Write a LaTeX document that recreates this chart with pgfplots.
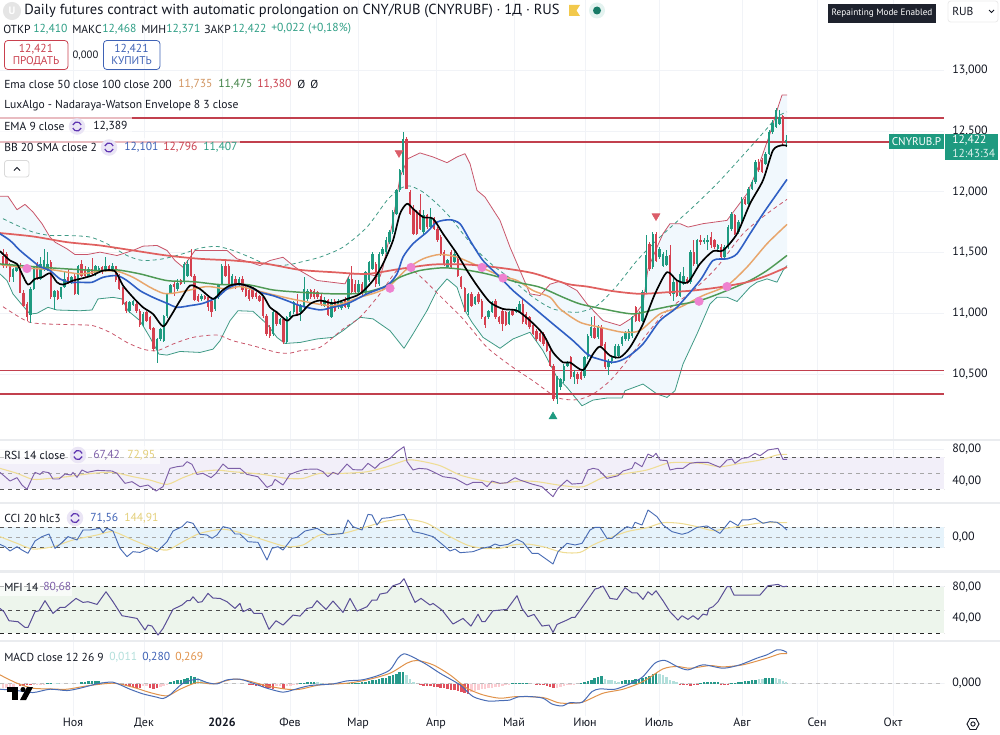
\documentclass[border=0pt]{standalone}
\usepackage{fontspec}
\setmainfont{PT Sans}
\usepackage{pgfplots}
\usepackage{pgfplotstable}
\pgfplotsset{compat=1.18}
\usepgfplotslibrary{fillbetween}
\definecolor{ink}{HTML}{131722}
\definecolor{cup}{HTML}{1E9A80}
\definecolor{cdn}{HTML}{D5404F}
\definecolor{hline}{HTML}{C2404E}
\definecolor{bbfill}{HTML}{F1F8FD}
\definecolor{bbup}{HTML}{C9566A}
\definecolor{bblo}{HTML}{3F9A85}
\definecolor{bbmid}{HTML}{2F5FC4}
\definecolor{ema50}{HTML}{E8A66C}
\definecolor{ema100}{HTML}{4F9A55}
\definecolor{ema200}{HTML}{E0605F}
\definecolor{gridc}{HTML}{F1F3F7}
\definecolor{sepc}{HTML}{EAECEF}
\definecolor{rsil}{HTML}{7D5FA8}
\definecolor{yel}{HTML}{EFDD95}
\definecolor{ccil}{HTML}{4A6DB5}
\definecolor{mfil}{HTML}{5A4F96}
\definecolor{macdo}{HTML}{E0924A}
\definecolor{hteal}{HTML}{26998A}
\definecolor{hpteal}{HTML}{B2DFDB}
\definecolor{hred}{HTML}{E0505E}
\definecolor{hpred}{HTML}{FBCDD2}
\definecolor{numgreen}{HTML}{2E9E85}
\definecolor{numred}{HTML}{C9404E}
\definecolor{numblue}{HTML}{3F62B5}
\definecolor{violet}{HTML}{5E35B1}
\definecolor{pinkdot}{HTML}{EE82D0}
\definecolor{ccifill}{HTML}{E6F3FB}
\definecolor{mfifill}{HTML}{EDF5EC}
\definecolor{yeltext}{HTML}{E3CF7A}
\definecolor{flag}{HTML}{F2C94C}
\definecolor{darkbox}{HTML}{1E222D}

% candles: bar number, open, high, low, close
\pgfplotstableread{
i o h l c
0 11.475 11.53 11.375 11.385
1 11.484 11.50 11.37 11.385
2 11.40 11.41 11.255 11.30
3 11.30 11.37 11.255 11.365
4 11.35 11.41 11.34 11.39
5 11.39 11.41 11.165 11.17
6 11.17 11.19 11.05 11.06
7 11.08 11.09 10.94 10.97
8 10.99 11.215 10.92 11.20
9 11.20 11.39 11.19 11.38
10 11.405 11.42 11.27 11.28
11 11.28 11.46 11.27 11.405
12 11.365 11.53 11.35 11.435
13 11.365 11.50 11.35 11.405
14 11.42 11.435 11.12 11.13
15 11.13 11.19 11.03 11.18
16 11.18 11.19 11.11 11.12
17 11.13 11.22 11.12 11.215
18 11.215 11.35 11.21 11.28
19 11.30 11.365 11.24 11.255
20 11.255 11.31 11.24 11.30
21 11.31 11.325 11.15 11.16
22 11.16 11.40 11.15 11.39
23 11.405 11.435 11.30 11.31
24 11.365 11.39 11.295 11.31
25 11.31 11.38 11.295 11.365
26 11.365 11.456 11.31 11.325
27 11.325 11.40 11.31 11.39
28 11.34 11.39 11.33 11.375
29 11.38 11.39 11.32 11.34
30 11.35 11.465 11.34 11.39
31 11.385 11.40 11.345 11.357
32 11.35 11.41 11.34 11.39
33 11.385 11.39 11.26 11.27
34 11.31 11.325 11.19 11.20
35 11.21 11.22 11.065 11.08
36 11.09 11.10 11.005 11.02
37 11.02 11.10 11.005 11.09
38 11.07 11.11 11.06 11.10
39 11.08 11.10 11.0 11.02
40 11.02 11.035 10.885 10.90
41 10.905 11.01 10.89 10.995
42 11.01 11.02 10.925 10.94
43 10.97 10.98 10.86 10.87
44 10.875 10.89 10.69 10.705
45 10.705 10.80 10.595 10.79
46 10.79 10.88 10.775 10.87
47 10.775 10.99 10.76 10.98
48 10.98 11.17 10.965 11.16
49 11.17 11.24 11.16 11.23
50 11.24 11.255 11.145 11.215
51 11.20 11.28 11.185 11.25
52 11.27 11.285 11.23 11.24
53 11.255 11.42 11.24 11.405
54 11.31 11.435 11.30 11.405
55 11.45 11.53 11.295 11.31
56 11.31 11.32 11.10 11.11
57 11.145 11.16 11.09 11.10
58 11.12 11.16 11.10 11.145
59 11.14 11.15 11.11 11.12
60 11.13 11.145 11.02 11.05
61 11.10 11.12 10.97 11.01
62 11.035 11.145 11.02 11.13
63 11.13 11.24 11.12 11.23
64 11.24 11.405 11.23 11.39
65 11.39 11.45 11.30 11.31
66 11.39 11.405 11.23 11.24
67 11.24 11.325 11.23 11.31
68 11.28 11.31 11.20 11.23
69 11.23 11.30 11.215 11.28
70 11.28 11.31 11.175 11.19
71 11.215 11.23 11.13 11.145
72 11.19 11.20 11.10 11.12
73 11.19 11.20 11.115 11.13
74 11.17 11.185 11.115 11.13
75 11.14 11.15 11.09 11.10
76 11.13 11.145 10.965 10.98
77 10.98 10.995 10.815 10.83
78 10.885 10.90 10.80 10.815
79 10.83 11.02 10.81 11.01
80 11.01 11.02 10.895 10.91
81 10.91 10.965 10.90 10.95
82 10.95 10.965 10.745 10.76
83 10.76 10.98 10.745 10.97
84 10.97 11.02 10.95 11.01
85 11.01 11.105 10.995 11.09
86 11.07 11.16 10.98 10.995
87 11.01 11.08 10.94 11.06
88 11.05 11.30 11.02 11.20
89 11.12 11.20 11.105 11.18
90 11.19 11.20 11.12 11.13
91 11.187 11.20 11.12 11.13
92 11.173 11.187 11.12 11.13
93 11.146 11.16 11.064 11.08
94 11.06 11.13 11.05 11.11
95 11.11 11.118 10.98 10.99
96 10.967 11.118 10.96 11.09
97 11.10 11.118 11.01 11.02
98 11.05 11.118 11.035 11.105
99 11.04 11.10 11.03 11.09
100 11.12 11.13 11.04 11.05
101 11.05 11.297 11.035 11.283
102 11.283 11.39 11.16 11.173
103 11.242 11.27 11.16 11.173
104 11.173 11.27 11.16 11.242
105 11.242 11.256 11.146 11.16
106 11.173 11.35 11.16 11.338
107 11.27 11.434 11.256 11.42
108 11.365 11.503 11.352 11.489
109 11.407 11.42 11.215 11.242
110 11.242 11.503 11.228 11.489
111 11.489 11.544 11.475 11.53
112 11.503 11.626 11.49 11.60
113 11.585 11.681 11.57 11.668
114 11.668 11.846 11.654 11.832
115 11.819 12.025 11.805 12.011
116 12.011 12.19 11.997 12.176
117 12.162 12.49 12.135 12.437
118 12.437 12.45 12.025 12.025
119 11.997 12.011 11.805 11.819
120 11.86 11.888 11.64 11.654
121 11.819 11.846 11.64 11.654
122 11.846 11.978 11.681 11.695
123 11.668 11.846 11.654 11.805
124 11.805 11.819 11.695 11.709
125 11.709 11.868 11.695 11.778
126 11.778 11.79 11.681 11.695
127 11.695 11.709 11.585 11.599
128 11.626 11.64 11.475 11.489
129 11.503 11.517 11.393 11.407
130 11.38 11.45 11.37 11.44
131 11.503 11.517 11.365 11.379
132 11.42 11.50 11.41 11.489
133 11.448 11.46 11.296 11.31
134 11.297 11.31 11.20 11.215
135 11.206 11.22 11.01 11.02
136 11.01 11.17 10.985 11.16
137 11.16 11.175 11.05 11.064
138 11.08 11.14 11.07 11.13
139 11.16 11.175 11.08 11.09
140 11.105 11.12 10.955 10.967
141 10.967 10.98 10.88 10.90
142 10.967 11.03 10.955 11.02
143 11.01 11.10 11.0 11.09
144 11.105 11.12 10.955 10.967
145 10.967 10.98 10.915 10.926
146 11.02 11.035 10.857 10.912
147 11.01 11.02 10.895 10.907
148 10.912 11.02 10.90 11.01
149 11.02 11.03 10.98 10.99
150 11.01 11.05 11.0 11.036
151 11.01 11.10 11.0 11.08
152 11.08 11.12 10.91 10.926
153 10.995 11.01 10.90 10.912
154 10.967 10.98 10.87 10.885
155 10.90 10.915 10.82 10.83
156 10.857 10.87 10.775 10.788
157 10.84 10.855 10.76 10.775
158 10.83 10.845 10.735 10.747
159 10.747 10.76 10.68 10.692
160 10.692 10.705 10.555 10.569
161 10.569 10.583 10.28 10.294
162 10.294 10.487 10.253 10.473
163 10.39 10.47 10.37 10.46
164 10.445 10.583 10.43 10.569
165 10.569 10.61 10.555 10.596
166 10.638 10.652 10.46 10.473
167 10.473 10.53 10.42 10.514
168 10.50 10.514 10.42 10.46
169 10.514 10.528 10.45 10.46
170 10.487 10.652 10.47 10.638
171 10.638 10.83 10.624 10.816
172 10.816 10.968 10.80 10.885
173 10.88 10.98 10.79 10.80
174 10.803 10.90 10.79 10.885
175 10.885 10.90 10.72 10.734
176 10.748 10.76 10.54 10.555
177 10.555 10.62 10.495 10.61
178 10.61 10.65 10.58 10.638
179 10.638 10.75 10.62 10.734
180 10.652 10.75 10.64 10.734
181 10.748 10.815 10.735 10.803
182 10.789 10.857 10.775 10.844
183 10.789 10.87 10.775 10.858
184 10.816 10.98 10.80 10.968
185 11.05 11.06 10.925 10.94
186 10.995 11.015 10.925 10.94
187 10.94 11.19 10.925 11.173
188 11.173 11.64 11.16 11.476
189 11.572 11.585 11.35 11.366
190 11.38 11.668 11.365 11.654
191 11.654 11.668 11.42 11.434
192 11.462 11.545 11.45 11.53
193 11.393 11.503 11.38 11.49
194 11.40 11.52 11.39 11.47
195 11.476 11.558 11.145 11.16
196 11.16 11.297 11.105 11.256
197 11.256 11.27 11.13 11.146
198 11.146 11.34 11.13 11.325
199 11.242 11.38 11.23 11.31
200 11.283 11.297 11.242 11.256
201 11.256 11.517 11.242 11.503
202 11.503 11.6 11.393 11.407
203 11.407 11.61 11.393 11.6
204 11.6 11.64 11.565 11.585
205 11.59 11.62 11.57 11.60
206 11.585 11.645 11.52 11.6
207 11.627 11.668 11.54 11.558
208 11.6 11.613 11.53 11.544
209 11.53 11.57 11.515 11.558
210 11.544 11.57 11.45 11.462
211 11.462 11.558 11.45 11.544
212 11.544 11.723 11.53 11.709
213 11.695 11.833 11.68 11.82
214 11.805 11.82 11.64 11.654
215 11.668 11.764 11.654 11.75
216 11.75 11.956 11.737 11.943
217 11.943 11.956 11.888 11.9
218 11.9 12.04 11.888 12.025
219 12.025 12.094 12.01 12.08
220 12.08 12.258 12.066 12.245
221 12.245 12.27 12.162 12.176
222 12.258 12.28 12.15 12.162
223 12.231 12.327 12.218 12.313
224 12.313 12.505 12.3 12.492
225 12.492 12.588 12.478 12.566
226 12.533 12.69 12.52 12.67
227 12.56 12.67 12.545 12.616
228 12.62 12.63 12.38 12.40
229 12.41 12.468 12.371 12.422
}\candles

\pgfplotsset{
  pane/.style={
    scale only axis, width=708pt, xmin=0, xmax=944,
    anchor=south west,
    axis line style={draw=none},
    tickwidth=0pt,
    xtick={73,144,222,290,358,436,514,585,659,742,817,893},
    xticklabels={},
    xmajorgrids, ymajorgrids,
    grid style={draw=gridc, line width=.6pt},
    yticklabel pos=right,
    yticklabel style={anchor=west, inner sep=0pt, xshift=6pt, text=ink, font=\fontsize{9}{11}\selectfont},
  },
  ln/.style={line join=round, forget plot, mark=none},
  sm/.style={line join=round, forget plot, mark=none, smooth, tension=.45},
  stem/.style 2 args={draw=none, mark=none, forget plot,
    error bars/y dir=both, error bars/y explicit, error bars/error mark=none,
    error bars/error bar style={line width=#1, color=#2}},
}
\newcommand{\candleplot}{%
\addplot[stem={.6pt}{cup}, restrict expr to domain={\thisrow{c}-\thisrow{o}}{0:10}]
  table[x expr=3+3.42*\thisrow{i}, y=o, y error plus expr=\thisrow{h}-\thisrow{o}, y error minus expr=\thisrow{o}-\thisrow{l}] {\candles};
\addplot[stem={1.8pt}{cup}, restrict expr to domain={\thisrow{c}-\thisrow{o}}{0:10}]
  table[x expr=3+3.42*\thisrow{i}, y=o, y error plus expr=\thisrow{c}-\thisrow{o}, y error minus expr=0] {\candles};
\addplot[stem={.6pt}{cdn}, restrict expr to domain={\thisrow{c}-\thisrow{o}}{-10:-0.00001}]
  table[x expr=3+3.42*\thisrow{i}, y=o, y error plus expr=\thisrow{h}-\thisrow{o}, y error minus expr=\thisrow{o}-\thisrow{l}] {\candles};
\addplot[stem={1.8pt}{cdn}, restrict expr to domain={\thisrow{c}-\thisrow{o}}{-10:-0.00001}]
  table[x expr=3+3.42*\thisrow{i}, y=o, y error plus expr=0, y error minus expr=\thisrow{o}-\thisrow{c}] {\candles};
}
% one line of text, left aligned at pixel x,y of the overlay axis
\newcommand{\lab}[4]{\node[anchor=west, inner sep=0pt, text=#3] at (axis cs:#1,#2) {#4};}
\newcommand{\refresh}[2]{%
  \fill[violet!13] (axis cs:#1,#2) circle (6.2pt);
  \draw[violet, line width=.9pt] (axis cs:#1,#2) ++(20:3.4pt) arc (20:160:3.4pt);
  \draw[violet, line width=.9pt] (axis cs:#1,#2) ++(200:3.4pt) arc (200:340:3.4pt);
}

\begin{document}
\begin{tikzpicture}[every node/.append style={font=\fontsize{8.7}{11}\selectfont}]
\path (0,0) rectangle (750pt,551.25pt);

% price pane
\begin{axis}[pane, at={(0pt,222pt)}, height=329.25pt, ymin=9.966, ymax=13.577,
  ytick={10.5,11,11.5,12,12.5,13},
  yticklabels={{10,500},{11,000},{11,500},{12,000},{12,500},{13,000}}]
\addplot[name path=bbu, bbup, line width=.6pt, ln] coordinates {(0,11.962)(8,11.962)(17,11.852)(25,11.896)(33,11.833)(42,11.737)(50,11.627)(55,11.585)(67,11.53)(75,11.483)(87,11.483)(100,11.503)(117,11.475)(133,11.517)(143,11.552)(157,11.558)(167,11.517)(175,11.434)(183,11.379)(195,11.517)(220,11.517)(227,11.517)(237,11.448)(250,11.42)(260,11.393)(270,11.434)(283,11.461)(293,11.393)(300,11.351)(317,11.27)(345,11.242)(350,11.324)(367,11.324)(380,11.30)(383,11.379)(393,11.764)(400,12.121)(408,12.272)(420,12.319)(433,12.286)(447,12.239)(457,12.286)(465,12.313)(470,12.231)(477,12.011)(485,11.956)(500,11.764)(510,11.544)(520,11.352)(530,11.16)(540,11.146)(550,11.239)(560,11.264)(577,11.187)(587,11.077)(603,10.94)(620,10.899)(633,10.967)(643,11.077)(648,11.366)(657,11.544)(663,11.654)(670,11.737)(680,11.737)(688,11.709)(703,11.737)(727,11.764)(737,11.874)(747,11.984)(757,12.176)(770,12.478)(777,12.67)(782,12.795)(787,12.796)};
\addplot[name path=bbl, bblo, line width=.6pt, ln] coordinates {(0,11.324)(7,11.269)(13,11.159)(20,11.09)(30,10.994)(37,11.0)(48,11.049)(57,11.027)(80,11.021)(92,11.027)(98,11.118)(113,11.131)(122,11.118)(128,11.021)(140,10.939)(150,10.801)(159,10.664)(167,10.656)(180,10.686)(200,10.678)(213,10.705)(220,10.774)(230,10.939)(238,11.021)(253,11.016)(267,10.911)(277,10.801)(285,10.752)(300,10.76)(317,10.789)(333,10.802)(343,10.857)(360,10.967)(373,10.954)(390,10.857)(404,10.712)(413,10.83)(427,11.022)(437,11.187)(447,11.283)(457,11.214)(465,11.022)(472,10.926)(483,10.802)(500,10.712)(513,10.789)(530,10.844)(543,10.692)(557,10.473)(567,10.39)(582,10.239)(593,10.286)(607,10.303)(622,10.303)(625,10.363)(643,10.418)(657,10.336)(667,10.308)(675,10.363)(683,10.583)(697,10.83)(710,11.077)(717,11.132)(727,11.132)(737,11.097)(750,11.215)(757,11.256)(767,11.283)(777,11.256)(783,11.352)(787,11.393)};
\addplot[bbfill] fill between[of=bbu and bbl];
% Nadaraya-Watson envelope
\addplot[bblo, line width=.6pt, dash pattern=on 3pt off 2.4pt, sm] coordinates {(3,11.778)(17,11.723)(33,11.668)(50,11.64)(67,11.64)(90,11.627)(107,11.572)(127,11.475)(143,11.434)(163,11.448)(183,11.49)(200,11.536)(217,11.55)(233,11.517)(250,11.461)(263,11.415)(280,11.393)(293,11.406)(300,11.42)(320,11.462)(343,11.544)(367,11.709)(387,11.929)(400,12.025)(410,12.047)(423,11.997)(437,11.901)(450,11.791)(463,11.654)(477,11.517)(493,11.393)(513,11.27)(533,11.132)(553,11.036)(577,11.008)(597,11.063)(617,11.228)(637,11.434)(660,11.627)(693,11.874)(717,12.066)(740,12.272)(767,12.52)(777,12.616)(787,12.657)};
\addplot[bbup, line width=.6pt, dash pattern=on 3pt off 2.4pt, sm] coordinates {(3,11.054)(17,10.98)(30,10.925)(47,10.912)(73,10.906)(93,10.898)(110,10.843)(127,10.76)(143,10.705)(157,10.692)(173,10.747)(193,10.802)(217,10.821)(233,10.774)(253,10.733)(277,10.678)(290,10.672)(300,10.692)(320,10.72)(343,10.871)(360,10.967)(380,11.16)(397,11.352)(410,11.365)(423,11.283)(443,11.118)(463,10.954)(487,10.72)(513,10.555)(533,10.445)(557,10.308)(577,10.289)(593,10.336)(610,10.445)(627,10.61)(647,10.83)(667,11.022)(693,11.187)(717,11.38)(743,11.654)(767,11.819)(787,11.937)};
% levels
\addplot[hline, line width=1.3pt, ln] coordinates {(0,12.604)(944,12.604)};
\addplot[hline, line width=1.2pt, ln] coordinates {(0,12.41)(944,12.41)};
\addplot[hline, line width=1.2pt, ln] coordinates {(0,10.53)(944,10.53)};
\addplot[hline, line width=1.2pt, ln] coordinates {(0,10.336)(944,10.336)};
\candleplot
% EMA 50, 100, 200
\addplot[ema50, line width=1.1pt, sm] coordinates {(0,11.401)(27,11.373)(53,11.357)(80,11.324)(100,11.346)(117,11.346)(133,11.296)(150,11.214)(163,11.165)(173,11.165)(187,11.186)(207,11.22)(227,11.2)(240,11.22)(257,11.186)(277,11.145)(300,11.104)(333,11.063)(360,11.132)(377,11.173)(390,11.228)(407,11.365)(423,11.448)(440,11.484)(457,11.462)(477,11.393)(500,11.31)(517,11.27)(533,11.187)(550,11.132)(560,11.036)(580,10.926)(600,10.885)(623,10.844)(640,10.858)(660,10.995)(680,11.05)(703,11.146)(727,11.228)(747,11.38)(767,11.572)(787,11.731)};
\addplot[ema100, line width=1.1pt, sm] coordinates {(0,11.406)(33,11.384)(67,11.365)(100,11.351)(117,11.357)(140,11.324)(167,11.269)(193,11.26)(220,11.236)(247,11.236)(273,11.192)(300,11.173)(333,11.16)(360,11.165)(383,11.214)(400,11.297)(420,11.352)(443,11.374)(463,11.36)(487,11.324)(517,11.256)(540,11.214)(563,11.132)(580,11.077)(603,11.036)(633,10.995)(657,11.036)(673,11.063)(700,11.105)(727,11.187)(750,11.27)(767,11.352)(787,11.476)};
\addplot[ema200, line width=1.3pt, sm] coordinates {(0,11.66)(33,11.632)(67,11.585)(100,11.558)(133,11.517)(167,11.475)(200,11.448)(233,11.434)(267,11.406)(300,11.357)(333,11.338)(367,11.324)(400,11.365)(433,11.401)(467,11.401)(500,11.374)(533,11.33)(567,11.242)(587,11.22)(613,11.182)(640,11.16)(667,11.173)(693,11.187)(720,11.215)(747,11.256)(767,11.31)(787,11.38)};
% BB basis
\addplot[bbmid, line width=1.2pt, sm] coordinates {(0,11.654)(10,11.599)(20,11.517)(30,11.448)(40,11.384)(50,11.351)(60,11.283)(70,11.255)(80,11.255)(92,11.255)(103,11.296)(117,11.31)(127,11.269)(140,11.186)(153,11.131)(167,11.082)(177,11.049)(190,11.063)(203,11.082)(217,11.131)(227,11.2)(237,11.236)(247,11.228)(260,11.173)(273,11.145)(287,11.104)(300,11.063)(320,11.028)(333,11.05)(347,11.077)(367,11.16)(387,11.228)(397,11.324)(403,11.462)(413,11.572)(427,11.668)(437,11.75)(450,11.769)(460,11.736)(470,11.599)(483,11.434)(500,11.297)(513,11.187)(533,11.05)(553,10.912)(573,10.775)(587,10.665)(593,10.638)(613,10.597)(627,10.638)(643,10.748)(660,10.94)(677,11.05)(700,11.27)(713,11.434)(727,11.448)(737,11.49)(750,11.654)(763,11.819)(777,11.984)(787,12.101)};
% EMA 9
\addplot[black, line width=1.25pt, sm] coordinates {(0,11.511)(10,11.434)(17,11.406)(22,11.324)(28,11.236)(35,11.283)(42,11.296)(50,11.329)(57,11.255)(63,11.236)(73,11.269)(80,11.283)(92,11.31)(103,11.351)(115,11.346)(123,11.228)(133,11.131)(143,11.049)(153,10.994)(163,10.892)(170,10.967)(180,11.104)(190,11.228)(200,11.2)(213,11.118)(222,11.186)(230,11.228)(240,11.241)(253,11.208)(263,11.145)(270,11.049)(277,11.008)(287,10.939)(293,10.98)(300,10.994)(310,11.077)(320,11.105)(333,11.083)(347,11.118)(360,11.16)(373,11.27)(383,11.407)(393,11.599)(400,11.819)(407,11.901)(413,11.86)(423,11.791)(433,11.778)(443,11.654)(457,11.489)(467,11.352)(477,11.228)(490,11.091)(503,11.036)(517,11.022)(530,10.94)(543,10.83)(553,10.679)(563,10.596)(570,10.596)(583,10.533)(593,10.665)(600,10.726)(610,10.652)(620,10.638)(630,10.72)(643,10.913)(655,11.16)(667,11.338)(677,11.27)(688,11.256)(700,11.407)(713,11.511)(723,11.517)(737,11.654)(750,11.901)(763,12.094)(773,12.341)(782,12.382)(787,12.377)};
% crossings and signals
\addplot[only marks, mark=*, mark size=3.2pt, mark options={draw=pinkdot, fill=pinkdot}, forget plot] coordinates {(27,11.368)(390,11.206)(411,11.377)(482,11.377)(503,11.29)(699,11.099)(727,11.22)};
\addplot[only marks, mark=triangle*, mark size=3.4pt, mark options={draw=cdn!85, fill=cdn!85, rotate=180}, forget plot] coordinates {(399,12.32)(656,11.80)};
\addplot[only marks, mark=triangle*, mark size=3.4pt, mark options={draw=cup, fill=cup}, forget plot] coordinates {(553,10.15)};
\end{axis}

% RSI
\begin{axis}[pane, at={(0pt,174.2pt)}, height=46.3pt, ymin=13.3, ymax=90.4, ytick={40,80}, yticklabels={{40,00},{80,00}}]
\addplot[fill=violet!8, draw=none, forget plot] coordinates {(0,70)(944,70)(944,30)(0,30)} -- cycle;
\addplot[black!65, line width=.55pt, dashed, ln] coordinates {(0,70)(944,70)};
\addplot[black!35, line width=.55pt, dashed, ln] coordinates {(0,50)(944,50)};
\addplot[black!65, line width=.55pt, dashed, ln] coordinates {(0,30)(944,30)};
\addplot[yel, line width=.8pt, sm] coordinates {(0,56.2)(17,50)(33,42.5)(50,43.7)(67,45.8)(93,50)(113,51.2)(133,45.8)(150,41.6)(167,36.2)(183,44.6)(200,52)(217,54)(233,52)(253,50)(267,47.9)(287,43.7)(303,43.7)(320,50)(343,50)(367,52)(387,58.3)(407,66.6)(420,65.4)(440,59.6)(460,47.9)(480,41.6)(500,37.5)(520,40.4)(537,39.6)(563,34.6)(583,33.3)(603,44.6)(627,50)(647,54.2)(667,62.5)(680,63.7)(700,62.5)(720,58.3)(740,62.5)(760,66.6)(777,72.9)(787,73.7)};
\addplot[rsil, line width=.7pt, ln] coordinates {(0,51.2)(7,43.7)(10,40.4)(17,44.6)(22,35.4)(27,30)(32,43.7)(35,51.2)(40,48.7)(43,52.1)(49,50.8)(53,42.9)(59,42.9)(65,49.1)(71,47.9)(73,51.2)(77,45)(82,54.2)(87,51.2)(97,53.7)(112,52.9)(117,50)(125,37.5)(132,39.6)(140,33.3)(148,35.4)(156,27.9)(163,33.3)(170,56.2)(177,58.3)(183,59.2)(187,64.6)(192,61.2)(197,48.7)(203,50)(211,44.6)(216,50)(223,61.6)(228,56.2)(235,56.2)(240,56.2)(247,48.7)(258,45.8)(267,32.5)(272,35.4)(275,42.5)(283,35.4)(290,48.7)(297,52.1)(305,55)(317,55.4)(323,52.1)(328,45.8)(333,51.2)(338,48.7)(347,61.6)(353,54.6)(362,54.2)(368,62.5)(375,56.2)(380,62.5)(390,68.7)(397,77.1)(404,83.3)(407,64.6)(413,54.2)(419,56.2)(427,55.4)(433,52.1)(443,45.8)(455,43.7)(467,35.4)(473,38.7)(482,38.7)(487,33.3)(492,40.4)(500,37.5)(507,38.3)(515,44.6)(520,41.6)(532,36.6)(542,33.3)(553,20.8)(558,31.2)(567,41.6)(572,36.6)(582,37.5)(588,54.2)(593,56.2)(598,55)(607,43.7)(618,47)(623,52.9)(632,56.2)(635,63.7)(642,58.3)(648,74.1)(653,70.8)(656,75)(660,66.6)(667,65.8)(670,54.2)(677,56.2)(683,56.2)(690,62.5)(697,63.7)(708,63.7)(720,57.5)(727,66.6)(732,67.9)(735,62.5)(742,68.7)(748,69.6)(755,75)(760,72)(768,79.2)(778,81.2)(783,67.5)(787,67.4)};
\end{axis}

% CCI
\begin{axis}[pane, at={(0pt,123pt)}, height=50.25pt, ymin=-331, ymax=328, ytick={0}, yticklabel={{0,00}}]
\addplot[fill=ccifill, draw=none, forget plot] coordinates {(0,100)(944,100)(944,-100)(0,-100)} -- cycle;
\addplot[black!65, line width=.55pt, dashed, ln] coordinates {(0,100)(944,100)};
\addplot[black!35, line width=.55pt, dashed, ln] coordinates {(0,0)(944,0)};
\addplot[black!65, line width=.55pt, dashed, ln] coordinates {(0,-100)(944,-100)};
\addplot[yel, line width=.8pt, sm] coordinates {(0,7)(17,-59)(33,-115)(53,-92)(73,-26)(97,23)(113,56)(133,-26)(150,-92)(167,-125)(183,-43)(200,39)(223,79)(243,39)(267,-36)(287,-92)(303,-75)(320,23)(343,39)(367,105)(387,161)(408,177)(427,138)(447,23)(467,-75)(483,-108)(500,-108)(513,-75)(527,-66)(543,-92)(563,-148)(580,-148)(593,-75)(607,-16)(627,56)(647,95)(663,144)(680,138)(697,105)(713,66)(727,89)(743,115)(763,144)(787,144.9)};
\addplot[ccil, line width=.7pt, ln] coordinates {(0,-69)(5,-92)(10,-134)(17,-92)(22,-125)(28,-157)(35,-36)(42,7)(49,33)(55,-108)(62,-52)(68,7)(77,-26)(83,72)(90,72)(100,89)(103,46)(107,89)(113,62)(120,-108)(127,-190)(133,-141)(140,-148)(150,-102)(157,-141)(167,-43)(173,62)(182,105)(187,154)(193,138)(200,30)(207,23)(212,-10)(217,23)(223,105)(230,89)(235,33)(240,33)(248,-43)(258,-49)(267,-223)(272,-108)(278,-92)(283,-125)(292,-10)(297,0)(305,62)(317,89)(328,23)(343,39)(348,171)(353,105)(362,72)(368,226)(372,220)(377,121)(382,187)(390,194)(397,213)(404,226)(413,56)(422,39)(433,7)(443,-75)(450,-134)(455,-115)(460,-151)(473,-141)(482,-108)(490,-92)(495,-66)(500,-82)(508,-69)(517,-20)(523,-49)(532,-157)(538,-157)(553,-262)(558,-141)(567,-59)(575,-75)(582,-59)(590,72)(595,98)(600,98)(607,-10)(612,-10)(620,56)(627,105)(632,89)(635,148)(642,121)(648,269)(657,203)(663,121)(672,56)(682,30)(688,46)(697,98)(707,112)(720,39)(730,161)(738,115)(742,171)(748,171)(755,187)(763,138)(770,154)(777,148)(782,115)(787,71.6)};
\end{axis}

% MFI
\begin{axis}[pane, at={(0pt,70.7pt)}, height=51.5pt, ymin=10.1, ymax=99, ytick={40,80}, yticklabels={{40,00},{80,00}}]
\addplot[fill=mfifill, draw=none, forget plot] coordinates {(0,80)(944,80)(944,20)(0,20)} -- cycle;
\addplot[black!85, line width=.6pt, dashed, ln] coordinates {(0,80)(944,80)};
\addplot[black!70, line width=.55pt, dashed, ln] coordinates {(0,50)(944,50)};
\addplot[black!85, line width=.6pt, dashed, ln] coordinates {(0,20)(944,20)};
\addplot[mfil, line width=.75pt, ln] coordinates {(0,51.9)(4,47.6)(9,36)(18,34.7)(25,27.3)(28,27.3)(35,47.6)(39,48.9)(45,61.9)(53,45.5)(60,53.2)(65,53.2)(76,64.9)(83,59.7)(88,60.6)(97,57.1)(106,73.5)(113,60.6)(122,42.5)(137,39)(145,23.9)(148,30.4)(152,29.1)(158,17.4)(163,26)(173,50.7)(182,56.3)(187,61.9)(190,61.9)(193,67)(198,59.7)(202,60.6)(208,71.4)(213,65.3)(220,64.9)(227,60.6)(235,51.9)(240,58.4)(243,47.6)(250,51.9)(254,45.5)(262,45.5)(269,24.8)(276,36)(283,30.4)(293,43.3)(300,42)(307,51.9)(312,53.2)(317,61.9)(326,50.7)(333,61.5)(343,46.8)(350,64.9)(357,48.5)(367,54.1)(372,62.7)(377,62.7)(380,70.5)(387,72.2)(393,81.3)(400,84.3)(404,90.4)(415,59.7)(421,64.9)(430,56.3)(433,58.4)(442,49.8)(453,31.7)(463,39)(471,29.1)(478,44.4)(482,34.7)(485,34.7)(493,48.9)(500,49.8)(507,50.7)(517,68.4)(522,51.9)(528,41.2)(534,44.2)(542,29.1)(549,30.4)(553,20.9)(557,31.2)(567,36.9)(572,40.3)(575,40.3)(585,58.4)(595,77)(598,77.9)(603,80.9)(610,64.9)(617,63.6)(625,78.7)(632,72.2)(637,72.2)(643,63.6)(648,73.5)(652,69.2)(656,74.8)(663,61.9)(670,47.6)(678,36.8)(682,42.5)(688,37.7)(693,42.5)(698,37.7)(703,44.6)(707,43.3)(709,51.9)(713,54.1)(718,60.6)(727,80)(730,80)(734,69.2)(760,69.2)(768,81.3)(778,83)(783,80)(787,80.7)};
\end{axis}

% MACD
\begin{axis}[pane, at={(0pt,14.25pt)}, height=55.9pt, ymin=-0.292, ymax=0.379, ytick={0}, yticklabel={{0,000}},
  xticklabels={Ноя,Дек,\textbf{2026},Фев,Мар,Апр,Май,Июн,Июль,Авг,Сен,Окт},
  xticklabel style={text=ink, font=\fontsize{9}{11}\selectfont, inner sep=0pt, yshift=-1.5pt}]
\addplot[black!25, line width=.55pt, dashed, ln] coordinates {(0,0)(944,0)};
\addplot[ycomb, hpred, line width=1.9pt, ln] table[x expr=3+3.42*\thisrow{i}, y=v] {
i v
0 -.04
1 -.036
2 -.03
3 -.03
9 -.012
10 -.012
11 -.009
12 -.006
41 -.02
42 -.02
46 -.03
47 -.02
48 -.01
80 -.02
81 -.02
83 -.02
84 -.018
85 -.015
86 -.01
137 -.08
138 -.07
139 -.06
140 -.05
141 -.045
142 -.04
143 -.04
144 -.035
145 -.03
146 -.02
147 -.012
148 -.01
162 -.036
163 -.03
164 -.024
165 -.012
166 -.009
167 -.006
};
\addplot[ycomb, hred, line width=1.9pt, ln] table[x expr=3+3.42*\thisrow{i}, y=v] {
i v
5 -.018
6 -.018
7 -.015
8 -.012
35 -.012
36 -.018
37 -.024
38 -.03
39 -.036
40 -.04
43 -.036
44 -.045
45 -.04
72 -.012
73 -.015
74 -.018
75 -.024
76 -.03
77 -.036
78 -.04
79 -.045
82 -.05
122 -.015
123 -.018
124 -.022
125 -.026
126 -.03
127 -.033
128 -.036
129 -.042
130 -.048
131 -.055
132 -.06
133 -.07
134 -.08
135 -.085
136 -.09
156 -.006
157 -.01
158 -.012
159 -.018
160 -.03
161 -.042
198 -.006
199 -.012
200 -.015
201 -.018
202 -.015
203 -.01
210 -.006
211 -.01
212 -.008
};
\addplot[ycomb, hpteal, line width=1.9pt, ln] table[x expr=3+3.42*\thisrow{i}, y=v] {
i v
16 .004
29 .01
30 .006
57 .05
58 .036
59 .024
60 .015
61 .006
92 .012
93 .009
118 .075
119 .045
120 .01
176 .045
177 .036
178 .03
179 .024
180 .015
192 .085
193 .075
194 .06
195 .036
196 .024
197 .012
221 .042
222 .042
226 .054
227 .04
228 .024
229 .011
};
\addplot[ycomb, hteal, line width=1.9pt, ln] table[x expr=3+3.42*\thisrow{i}, y=v] {
i v
13 .004
14 .005
23 .01
24 .015
25 .02
26 .024
27 .024
28 .02
49 .012
50 .02
51 .03
52 .036
53 .045
54 .054
55 .066
56 .063
87 .006
88 .009
89 .012
90 .015
91 .015
101 .006
102 .006
103 .006
104 .006
105 .012
106 .018
107 .024
108 .03
109 .036
110 .042
111 .048
112 .054
113 .066
114 .078
115 .09
116 .1
117 .108
149 .004
150 .006
151 .006
152 .006
153 .004
169 .006
170 .012
171 .022
172 .032
173 .05
174 .06
175 .066
181 .024
182 .03
183 .03
184 .036
185 .042
186 .045
187 .05
188 .06
189 .07
190 .085
191 .095
204 .006
205 .012
206 .012
207 .015
208 .012
209 .01
213 .004
214 .006
215 .01
216 .015
217 .02
218 .025
219 .03
220 .036
223 .048
224 .054
225 .054
};
\addplot[macdo, line width=.75pt, sm] coordinates {(0,.078)(17,.003)(33,-.042)(50,-.048)(67,-.051)(87,-.021)(113,.003)(133,-.033)(150,-.081)(167,-.111)(180,-.051)(197,.009)(213,-.003)(233,.039)(247,.027)(267,-.021)(287,-.051)(300,-.051)(320,-.012)(347,.003)(367,.033)(390,.093)(407,.184)(417,.208)(433,.169)(450,.078)(467,-.042)(483,-.102)(500,-.132)(517,-.117)(543,-.126)(558,-.172)(570,-.178)(583,-.166)(603,-.087)(623,-.051)(643,.018)(663,.132)(677,.154)(690,.138)(710,.162)(723,.15)(743,.169)(767,.229)(780,.268)(787,.269)};
\addplot[ccil, line width=.75pt, sm] coordinates {(0,-.051)(17,-.063)(33,-.081)(50,-.051)(67,-.063)(80,-.042)(97,-.003)(113,.012)(130,-.051)(143,-.093)(157,-.123)(163,-.135)(170,-.102)(183,.003)(197,.039)(207,.009)(217,-.003)(227,.033)(240,.039)(253,.003)(267,-.042)(283,-.078)(293,-.057)(310,-.018)(333,-.003)(347,.024)(362,.033)(377,.069)(390,.123)(398,.229)(404,.268)(413,.238)(427,.169)(440,.093)(460,-.012)(473,-.117)(488,-.157)(500,-.154)(510,-.148)(518,-.12)(530,-.117)(543,-.132)(552,-.184)(562,-.202)(570,-.172)(582,-.169)(592,-.072)(600,-.048)(615,-.051)(633,.009)(643,.063)(655,.184)(665,.208)(677,.154)(688,.123)(703,.169)(723,.138)(740,.169)(757,.229)(767,.259)(777,.304)(783,.298)(787,.280)};
\end{axis}

% header, legends, price tags
\begin{axis}[at={(0pt,0pt)}, anchor=south west, scale only axis, width=750pt, height=551.25pt,
  xmin=0, xmax=1000, ymin=0, ymax=735, y dir=reverse, hide axis, clip=false]
\draw[sepc, line width=1.6pt] (axis cs:0,440)--(axis cs:1000,440);
\draw[sepc, line width=1.6pt] (axis cs:0,503)--(axis cs:1000,503);
\draw[sepc, line width=1.6pt] (axis cs:0,571.5)--(axis cs:1000,571.5);
\draw[sepc, line width=1.6pt] (axis cs:0,641)--(axis cs:1000,641);
% pale backing of the legend rows
\fill[white, opacity=.65] (axis cs:0,117) rectangle (axis cs:132,136);
\fill[white, opacity=.65] (axis cs:0,138) rectangle (axis cs:240,157);
\fill[white, opacity=.65] (axis cs:0,446) rectangle (axis cs:160,464);
\fill[white, opacity=.65] (axis cs:0,578) rectangle (axis cs:72,596);
% title
\fill[black!10] (axis cs:12,11) circle (6.8pt);
\node[text=white, inner sep=0pt, font=\fontsize{8}{10}\selectfont\bfseries] at (axis cs:12,11) {U};
\node[anchor=west, inner sep=0pt, text=ink, font=\fontsize{10.9}{14}\selectfont] at (axis cs:24,11) {Daily futures contract with automatic prolongation on CNY/RUB (CNYRUBF) · 1Д · RUS};
\fill[flag] (axis cs:569,5) -- (axis cs:580,5) -- (axis cs:576.5,10.5) -- (axis cs:580,16) -- (axis cs:569,16) -- cycle;
\fill[cup!12] (axis cs:597,10.5) circle (6pt);
\fill[cup!80!black] (axis cs:597,10.5) circle (3pt);
% OHLC
\lab{3}{29}{ink}{ОТКР}\lab{33}{29}{numgreen}{12,410}
\lab{72}{29}{ink}{МАКС}\lab{102}{29}{numgreen}{12,468}
\lab{141}{29}{ink}{МИН}\lab{166}{29}{numgreen}{12,371}
\lab{204}{29}{ink}{ЗАКР}\lab{232}{29}{numgreen}{12,422}
\lab{271}{29}{numgreen}{+0,022 (+0,18\%)}
% order buttons
\draw[numred, line width=.6pt, rounded corners=2.5pt] (axis cs:4.5,40.5) rectangle (axis cs:68,69.5);
\node[text=numred, inner sep=0pt] at (axis cs:36,49) {12,421};
\node[text=numred, inner sep=0pt, font=\fontsize{8.4}{10}\selectfont] at (axis cs:36,61) {ПРОДАТЬ};
\node[text=ink, inner sep=0pt, font=\fontsize{8}{10}\selectfont] at (axis cs:85.5,55) {0,000};
\draw[numblue, line width=.6pt, rounded corners=2.5pt] (axis cs:103.5,40.5) rectangle (axis cs:160,69.5);
\node[text=numblue, inner sep=0pt] at (axis cs:131.5,49) {12,421};
\node[text=numblue, inner sep=0pt, font=\fontsize{8.4}{10}\selectfont] at (axis cs:131.5,61) {КУПИТЬ};
% study legends
\lab{4}{84.5}{ink}{Ema close 50 close 100 close 200}
\lab{178}{84.5}{ema50!90!black}{11,735}\lab{218}{84.5}{ema100!85!black}{11,475}\lab{257}{84.5}{numred}{11,380}
\lab{297}{84.5}{ink}{Ø}\lab{310}{84.5}{ink}{Ø}
\lab{4}{105.5}{ink}{LuxAlgo - Nadaraya-Watson Envelope 8 3 close}
\lab{4}{126.5}{ink}{EMA 9 close}\refresh{77}{126.5}\lab{93}{126.5}{ink}{12,389}
\lab{4}{147.5}{ink}{BB 20 SMA close 2}\refresh{109}{147.5}
\lab{124}{147.5}{numblue}{12,101}\lab{163}{147.5}{numred}{12,796}\lab{203}{147.5}{numgreen}{11,407}
\draw[black!15, line width=.6pt, rounded corners=2pt] (axis cs:4.5,160.5) rectangle (axis cs:29,177);
\draw[ink, line width=.7pt] (axis cs:14,170.5)--(axis cs:17,167.5)--(axis cs:20,170.5);
\lab{4}{455}{ink}{RSI 14 close}\refresh{78}{455}\lab{93}{455}{rsil}{67,42}\lab{127}{455}{yeltext}{72,95}
\lab{4}{518}{ink}{CCI 20 hlc3}\refresh{75}{518}\lab{90}{518}{numblue}{71,56}\lab{124}{518}{yeltext}{144,91}
\lab{4}{587}{ink}{MFI 14}\lab{43}{587}{rsil}{80,68}
\lab{4}{657}{ink}{MACD close 12 26 9}\lab{109}{657}{hpteal}{0,011}\lab{142}{657}{numblue}{0,280}\lab{175}{657}{macdo}{0,269}
% logo and settings
\fill[black] (axis cs:7,687) rectangle (axis cs:18,691.5);
\fill[black] (axis cs:12,691.5) rectangle (axis cs:18,700);
\fill[black] (axis cs:23,689.5) circle (1.9pt);
\fill[black] (axis cs:27,687) -- (axis cs:33,687) -- (axis cs:26,700) -- (axis cs:20,700) -- cycle;
\draw[ink, line width=.7pt] (axis cs:967,724) -- (axis cs:970,718.5) -- (axis cs:976,718.5) -- (axis cs:979,724) -- (axis cs:976,729.5) -- (axis cs:970,729.5) -- cycle;
\draw[ink, line width=.7pt] (axis cs:973,724) circle (1.6pt);
% top right
\fill[darkbox] (axis cs:828,4) rectangle (axis cs:936,23);
\node[text=white, inner sep=0pt, font=\fontsize{6.9}{9}\selectfont] at (axis cs:882,13.5) {Repainting Mode Enabled};
\draw[black!8, line width=.6pt, rounded corners=2pt] (axis cs:948,1) rectangle (axis cs:998,22);
\lab{952}{11}{ink}{RUB}
\draw[ink, line width=.6pt] (axis cs:989,10) -- (axis cs:991.5,12.5) -- (axis cs:994,10);
% last price tags
\fill[cup] (axis cs:889,134) rectangle (axis cs:944,149);
\node[text=white, inner sep=0pt, font=\fontsize{8.4}{10}\selectfont] at (axis cs:916.5,141.5) {CNYRUB.P};
\fill[cup] (axis cs:945,134) rectangle (axis cs:998,160);
\lab{952}{140.5}{white}{12,422}
\lab{952}{153}{white!85!cup}{12:43:34}
\end{axis}
\pgfresetboundingbox
\path[use as bounding box] (0,0) rectangle (750pt,551.25pt);
\end{tikzpicture}
\end{document}
